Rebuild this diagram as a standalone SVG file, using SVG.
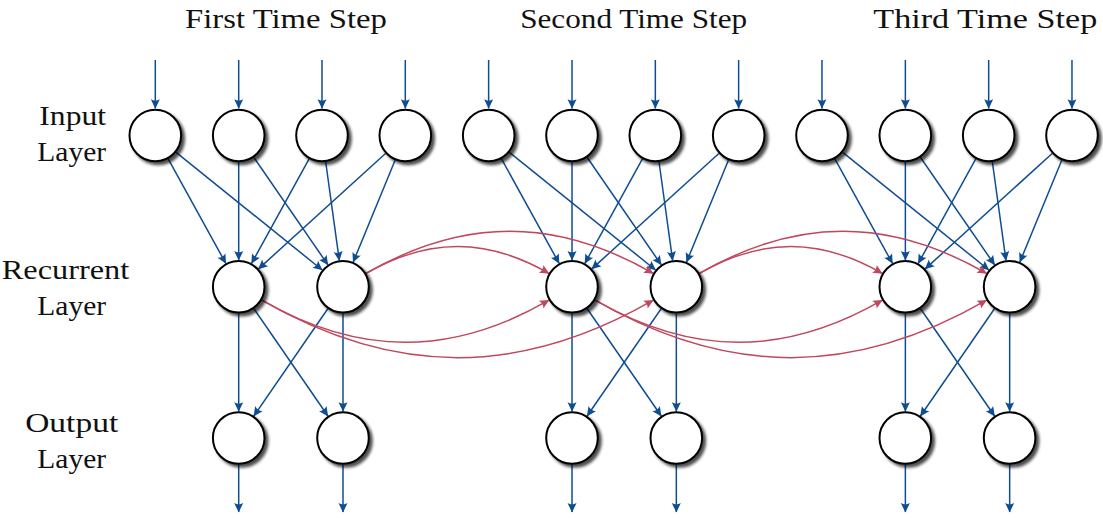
<svg xmlns="http://www.w3.org/2000/svg" width="1103" height="520" viewBox="0 0 1103 520">
<style>
.lbl{font-family:"Liberation Serif","Times New Roman",serif;font-size:27.5px;fill:#111;text-anchor:middle}
.node{fill:#fff;stroke:#000;stroke-width:2;filter:url(#sh)}
.b{stroke:#0f4d92;stroke-width:1.5;fill:none;marker-end:url(#ab)}
.r{stroke:#c0485e;stroke-width:1.5;fill:none;marker-end:url(#ar)}
</style>
<defs>
<filter id="sh" x="-30%" y="-30%" width="170%" height="170%">
<feGaussianBlur in="SourceAlpha" stdDeviation="1.5"/>
<feOffset dx="2.8" dy="2.8" result="o"/>
<feComponentTransfer in="o" result="s"><feFuncA type="linear" slope="0.7"/></feComponentTransfer>
<feMerge><feMergeNode in="s"/><feMergeNode in="SourceGraphic"/></feMerge>
</filter>
<marker id="ab" markerUnits="userSpaceOnUse" viewBox="-11 -6 12 12" markerWidth="12" markerHeight="12" refX="0" refY="0" orient="auto">
<path d="M0.5,0 L-9,-4.5 Q-6.2,0 -9,4.5 Z" fill="#0f4d92"/>
</marker>
<marker id="ar" markerUnits="userSpaceOnUse" viewBox="-11 -6 12 12" markerWidth="12" markerHeight="12" refX="0" refY="0" orient="auto">
<path d="M0.5,0 L-9,-4.5 Q-6.2,0 -9,4.5 Z" fill="#c0485e"/>
</marker>
</defs>

<g id="labels">
<text class="lbl" x="286" y="27.5" textLength="202" lengthAdjust="spacingAndGlyphs">First Time Step</text>
<text class="lbl" x="633.7" y="27.5" textLength="227" lengthAdjust="spacingAndGlyphs">Second Time Step</text>
<text class="lbl" x="985.3" y="27.5" textLength="224" lengthAdjust="spacingAndGlyphs">Third Time Step</text>
<text class="lbl" x="72.7" y="124.5" textLength="66.7" lengthAdjust="spacingAndGlyphs">Input</text>
<text class="lbl" x="71.7" y="160.5" textLength="68.7" lengthAdjust="spacingAndGlyphs">Layer</text>
<text class="lbl" x="65.5" y="279" textLength="127.6" lengthAdjust="spacingAndGlyphs">Recurrent</text>
<text class="lbl" x="71.7" y="315" textLength="68.7" lengthAdjust="spacingAndGlyphs">Layer</text>
<text class="lbl" x="71.7" y="431.5" textLength="93" lengthAdjust="spacingAndGlyphs">Output</text>
<text class="lbl" x="71.7" y="467.5" textLength="68.7" lengthAdjust="spacingAndGlyphs">Layer</text>
</g>

<g id="connectors">
<g id="step1-edges">
<path class="b" d="M155.3,60V108.3"/>
<path class="b" d="M238.7,60V108.3"/>
<path class="b" d="M322,60V108.3"/>
<path class="b" d="M405.3,60V108.3"/>
<path class="b" d="M168.2,158.9L225.8,263.4"/>
<path class="b" d="M176.1,152.3L322.2,270.0"/>
<path class="b" d="M238.7,162.2L238.7,260.1"/>
<path class="b" d="M253.9,157.5L327.9,264.8"/>
<path class="b" d="M309.1,158.9L251.6,263.4"/>
<path class="b" d="M325.7,162.0L339.3,260.4"/>
<path class="b" d="M385.5,153.5L258.5,268.9"/>
<path class="b" d="M395.1,160.2L353.2,262.1"/>
<path class="b" d="M238.7,313.5L238.7,411.3"/>
<path class="b" d="M253.9,308.8L327.9,416.0"/>
<path class="b" d="M327.8,308.8L253.8,416.0"/>
<path class="b" d="M343,313.5L343,411.3"/>
<path class="b" d="M238.7,464.7V512"/>
<path class="b" d="M343,464.7V512"/>
</g>
<use href="#step1-edges" transform="translate(333.33,0)"/>
<use href="#step1-edges" transform="translate(666.67,0)"/>
<g id="rec-edges">
<path class="r" d="M366.1,273.4C428.1,237.6 486.9,237.6 548.9,273.4"/>
<path class="r" d="M366.1,273.4C463.4,217.2 555.9,217.2 653.2,273.4"/>
<path class="r" d="M261.8,300.2C359.1,356.4 451.6,356.4 548.9,300.2"/>
<path class="r" d="M261.8,300.2C394.5,376.8 520.5,376.8 653.2,300.2"/>
</g>
<use href="#rec-edges" transform="translate(333.33,0)"/>
</g>

<g id="nodes">
<g id="in1"><circle class="node" cx="155.3" cy="135.5" r="25.8"/></g>
<g id="in2"><circle class="node" cx="238.7" cy="135.5" r="25.8"/></g>
<g id="in3"><circle class="node" cx="322" cy="135.5" r="25.8"/></g>
<g id="in4"><circle class="node" cx="405.3" cy="135.5" r="25.8"/></g>
<g id="in5"><circle class="node" cx="488.7" cy="135.5" r="25.8"/></g>
<g id="in6"><circle class="node" cx="572" cy="135.5" r="25.8"/></g>
<g id="in7"><circle class="node" cx="655.3" cy="135.5" r="25.8"/></g>
<g id="in8"><circle class="node" cx="738.7" cy="135.5" r="25.8"/></g>
<g id="in9"><circle class="node" cx="822" cy="135.5" r="25.8"/></g>
<g id="in10"><circle class="node" cx="905.3" cy="135.5" r="25.8"/></g>
<g id="in11"><circle class="node" cx="988.7" cy="135.5" r="25.8"/></g>
<g id="in12"><circle class="node" cx="1072" cy="135.5" r="25.8"/></g>
<g id="rec1"><circle class="node" cx="238.7" cy="286.8" r="25.8"/></g>
<g id="rec2"><circle class="node" cx="343" cy="286.8" r="25.8"/></g>
<g id="rec3"><circle class="node" cx="572" cy="286.8" r="25.8"/></g>
<g id="rec4"><circle class="node" cx="676.3" cy="286.8" r="25.8"/></g>
<g id="rec5"><circle class="node" cx="905.3" cy="286.8" r="25.8"/></g>
<g id="rec6"><circle class="node" cx="1009.6" cy="286.8" r="25.8"/></g>
<g id="out1"><circle class="node" cx="238.7" cy="438" r="25.8"/></g>
<g id="out2"><circle class="node" cx="343" cy="438" r="25.8"/></g>
<g id="out3"><circle class="node" cx="572" cy="438" r="25.8"/></g>
<g id="out4"><circle class="node" cx="676.3" cy="438" r="25.8"/></g>
<g id="out5"><circle class="node" cx="905.3" cy="438" r="25.8"/></g>
<g id="out6"><circle class="node" cx="1009.6" cy="438" r="25.8"/></g>
</g>
</svg>
